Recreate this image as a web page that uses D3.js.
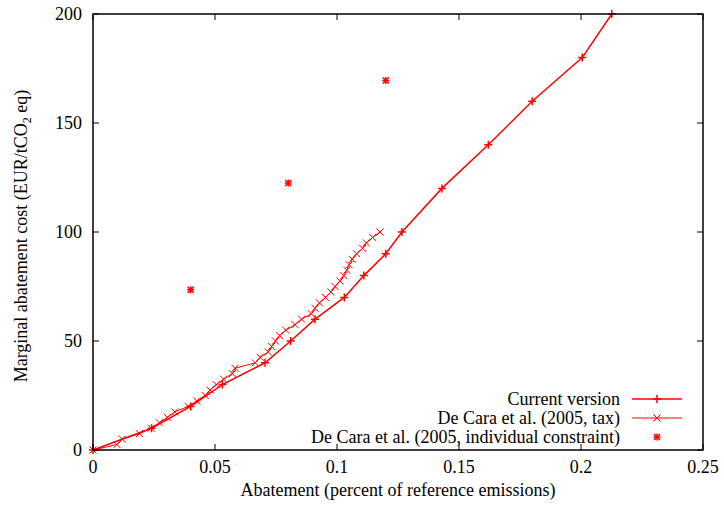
<!DOCTYPE html>
<html>
<head>
<meta charset="utf-8">
<script src="https://cdn.jsdelivr.net/npm/d3@7"></script>
<style>
  body { margin: 0; background: #fff; }
  text { font-family: "Liberation Serif", "Times New Roman", Times, "DejaVu Serif", serif; }
</style>
</head>
<body>
<div id="chart"></div>
<script>
// Current version: abatement share vs marginal cost
var currentX = [0, 0.024, 0.040, 0.053, 0.0705, 0.081, 0.091, 0.103, 0.111, 0.120, 0.1266, 0.143, 0.162, 0.180, 0.2005, 0.2126];
var currentY = [0, 10, 20, 30, 40, 50, 60, 70, 80, 90, 100, 120, 140, 160, 180, 200];

// De Cara et al. (2005, tax)
var taxX = [0, 0.0098, 0.012, 0.019, 0.0238, 0.0272, 0.0305, 0.0335, 0.039, 0.0425,
            0.046, 0.048, 0.0505, 0.0535, 0.0571, 0.0582, 0.0665, 0.0685, 0.0718, 0.0732,
            0.0748, 0.0765, 0.079, 0.0828, 0.0855, 0.0895, 0.091, 0.0928, 0.0953, 0.0975,
            0.0992, 0.1012, 0.1028, 0.104, 0.105, 0.1062, 0.108, 0.1105, 0.112, 0.1146, 0.1176];
var taxY = [0, 2.5, 5, 7.5, 10, 12.5, 15, 17.5, 20, 22.5,
            25, 27.5, 30, 32.5, 35, 37.5, 40, 42.5, 45, 47.5,
            50, 52.5, 55, 57.5, 60, 62.5, 65, 67.5, 70, 72.5,
            75, 77.5, 80, 82.5, 85, 87.5, 90, 92.5, 95, 97.5, 100];

// De Cara et al. (2005, individual constraint)
var indivX = [0.04, 0.08, 0.12];
var indivY = [73.5, 122.5, 169.5];

var xTicks = [0, 0.05, 0.1, 0.15, 0.2, 0.25];
var yTicks = [0, 50, 100, 150, 200];
var legendNames = ["Current version", "De Cara et al. (2005, tax)", "De Cara et al. (2005, individual constraint)"];

var width = 724, height = 507;
var margin = {left: 93, right: 21, top: 14, bottom: 57};
var red = "#ff0000";
var fs = 18;

var svg = d3.select("#chart").append("svg")
  .attr("width", width)
  .attr("height", height);

var x = d3.scaleLinear().domain([0, 0.25]).range([margin.left, width - margin.right]);
var y = d3.scaleLinear().domain([0, 200]).range([height - margin.bottom, margin.top]);

var tick = 6;

// ticks on all four sides, pointing inward
var g = svg.append("g").attr("stroke", "#000").attr("stroke-width", 1);
xTicks.forEach(function(t) {
  g.append("line").attr("x1", x(t)).attr("x2", x(t)).attr("y1", y(0)).attr("y2", y(0) - tick);
  g.append("line").attr("x1", x(t)).attr("x2", x(t)).attr("y1", y(200)).attr("y2", y(200) + tick);
});
yTicks.forEach(function(t) {
  g.append("line").attr("x1", x(0)).attr("x2", x(0) + tick).attr("y1", y(t)).attr("y2", y(t));
  g.append("line").attr("x1", x(0.25)).attr("x2", x(0.25) - tick).attr("y1", y(t)).attr("y2", y(t));
});

svg.selectAll("text.xt").data(xTicks).enter().append("text")
  .attr("class", "xt")
  .attr("x", function(d) { return x(d); })
  .attr("y", y(0) + 23)
  .attr("text-anchor", "middle")
  .attr("font-size", fs)
  .text(function(d) { return d; });

svg.selectAll("text.yt").data(yTicks).enter().append("text")
  .attr("class", "yt")
  .attr("x", x(0) - 11)
  .attr("y", function(d) { return y(d) + 6; })
  .attr("text-anchor", "end")
  .attr("font-size", fs)
  .text(function(d) { return d; });

svg.append("text")
  .attr("x", (x(0) + x(0.25)) / 2)
  .attr("y", height - 11)
  .attr("text-anchor", "middle")
  .attr("font-size", fs)
  .text("Abatement (percent of reference emissions)");

var yl = svg.append("text")
  .attr("transform", "translate(27," + ((y(0) + y(200)) / 2 + 4) + ") rotate(-90)")
  .attr("text-anchor", "middle")
  .attr("font-size", fs);
yl.append("tspan").text("Marginal abatement cost (EUR/tCO");
yl.append("tspan").attr("font-size", 12).attr("dy", 4).text("2");
yl.append("tspan").attr("dy", -4).text(" eq)");

// marker shapes
function plus(sel, s) {
  sel.append("path").attr("d", "M" + (-s) + ",0H" + s + "M0," + (-s) + "V" + s);
}
function cross(sel, s) {
  sel.append("path").attr("d", "M" + (-s) + "," + (-s) + "L" + s + "," + s + "M" + (-s) + "," + s + "L" + s + "," + (-s));
}

var line = d3.line().x(function(d) { return x(d[0]); }).y(function(d) { return y(d[1]); });

var taxData = d3.zip(taxX, taxY);
var curData = d3.zip(currentX, currentY);
var indData = d3.zip(indivX, indivY);

var plot = svg.append("g").attr("fill", "none").attr("stroke", red);

plot.append("path").attr("d", line(taxData)).attr("stroke-width", 1);
plot.selectAll("g.tx").data(taxData).enter().append("g")
  .attr("transform", function(d) { return "translate(" + x(d[0]) + "," + y(d[1]) + ")"; })
  .attr("stroke-width", 1)
  .each(function() { cross(d3.select(this), 3.5); });

plot.append("path").attr("d", line(curData)).attr("stroke-width", 1.5);
plot.selectAll("g.cu").data(curData).enter().append("g")
  .attr("transform", function(d) { return "translate(" + x(d[0]) + "," + y(d[1]) + ")"; })
  .attr("stroke-width", 1.5)
  .each(function() { plus(d3.select(this), 4); });

plot.selectAll("g.in").data(indData).enter().append("g")
  .attr("transform", function(d) { return "translate(" + x(d[0]) + "," + y(d[1]) + ")"; })
  .attr("stroke-width", 1.5)
  .each(function() { plus(d3.select(this), 3.5); cross(d3.select(this), 3); });

// frame
svg.append("rect")
  .attr("x", x(0)).attr("y", y(200))
  .attr("width", x(0.25) - x(0)).attr("height", y(0) - y(200))
  .attr("fill", "none").attr("stroke", "#000").attr("stroke-width", 1.5);

// legend
var legY = [399, 418, 437];
var leg = svg.append("g");
legendNames.forEach(function(name, i) {
  leg.append("text")
    .attr("x", 620)
    .attr("y", legY[i] + 6)
    .attr("text-anchor", "end")
    .attr("font-size", fs)
    .text(name);
  var s = leg.append("g").attr("stroke", red).attr("fill", "none");
  if (i < 2) {
    s.append("line").attr("x1", 632).attr("x2", 682).attr("y1", legY[i]).attr("y2", legY[i])
      .attr("stroke-width", i === 0 ? 1.5 : 1);
  }
  var m = s.append("g").attr("transform", "translate(657," + legY[i] + ")")
    .attr("stroke-width", i === 1 ? 1 : 1.5);
  if (i === 0) plus(m, 4);
  else if (i === 1) cross(m, 3.5);
  else { plus(m, 3.5); cross(m, 3); }
});
</script>
</body>
</html>
